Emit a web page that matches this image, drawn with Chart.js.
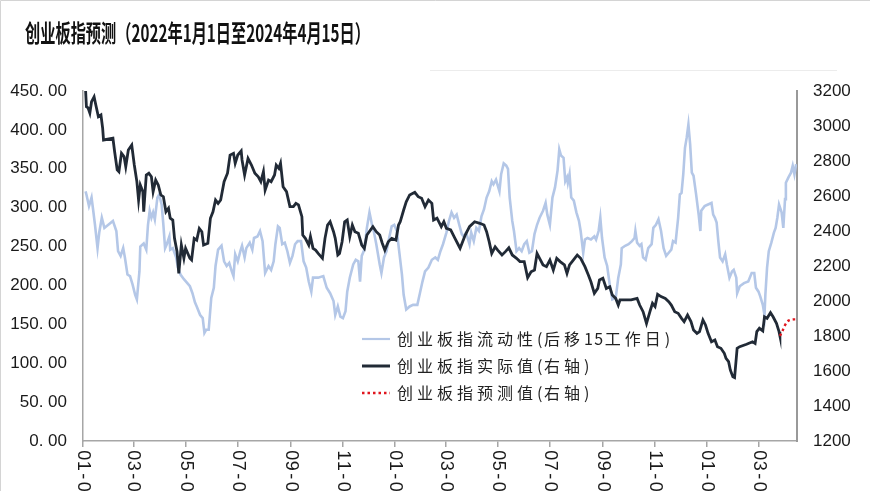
<!DOCTYPE html>
<html>
<head>
<meta charset="utf-8">
<title>创业板指预测</title>
<script src="https://cdn.jsdelivr.net/npm/chart.js@4.4.1/dist/chart.umd.min.js"></script>
<style>
  html, body { margin: 0; padding: 0; background: #fff; overflow: hidden; }
  #wrap { position: relative; width: 870px; height: 492px; }
</style>
</head>
<body>
<div id="wrap"><canvas id="chart" width="870" height="492"></canvas></div>
<script>
// chart texts
const titleText = "创业板指预测（2022年1月1日至2024年4月15日）";
const seriesNames = ["创业板指流动性(后移15工作日)", "创业板指实际值(右轴)", "创业板指预测值(右轴)"];

// x axis ticks (first day of every odd month)
const xTickDates = ["2022-01-01", "2022-03-01", "2022-05-01", "2022-07-01", "2022-09-01", "2022-11-01",
  "2023-01-01", "2023-03-01", "2023-05-01", "2023-07-01", "2023-09-01", "2023-11-01",
  "2024-01-01", "2024-03-01"];
const xTickLabels = ["01-01", "03-01", "05-01", "07-01", "09-01", "11-01",
  "01-01", "03-01", "05-01", "07-01", "09-01", "11-01", "01-01", "03-01"];
const xStart = "2022-01-01";
const xEnd = "2024-04-15";

// axis ranges
const leftMin = 0, leftMax = 450, leftStep = 50;
const rightMin = 1200, rightMax = 3200, rightStep = 200;

// liquidity (left axis), shifted 15 working days
const liqDates = [
  "2022-01-04", "2022-01-05", "2022-01-08", "2022-01-11", "2022-01-13", "2022-01-15", "2022-01-18", "2022-01-20",
  "2022-01-23", "2022-01-26", "2022-02-05", "2022-02-09", "2022-02-11", "2022-02-14", "2022-02-17", "2022-02-19",
  "2022-02-22", "2022-02-25", "2022-02-28", "2022-03-03", "2022-03-05", "2022-03-08", "2022-03-09", "2022-03-13",
  "2022-03-16", "2022-03-18", "2022-03-20", "2022-03-22", "2022-03-24", "2022-03-26", "2022-03-29", "2022-03-31",
  "2022-04-03", "2022-04-05", "2022-04-07", "2022-04-09", "2022-04-12", "2022-04-13", "2022-04-16", "2022-04-20",
  "2022-04-22", "2022-04-25", "2022-04-29", "2022-05-03", "2022-05-06", "2022-05-09", "2022-05-12", "2022-05-14",
  "2022-05-18", "2022-05-21", "2022-05-23", "2022-05-25", "2022-05-28", "2022-05-31", "2022-06-03", "2022-06-05",
  "2022-06-08", "2022-06-12", "2022-06-15", "2022-06-18", "2022-06-21", "2022-06-24", "2022-06-26", "2022-06-28",
  "2022-07-01", "2022-07-04", "2022-07-06", "2022-07-09", "2022-07-11", "2022-07-15", "2022-07-18", "2022-07-20",
  "2022-07-24", "2022-07-27", "2022-07-30", "2022-08-02", "2022-08-06", "2022-08-09", "2022-08-12", "2022-08-14",
  "2022-08-17", "2022-08-19", "2022-08-22", "2022-08-25", "2022-08-28", "2022-08-31", "2022-09-03", "2022-09-06",
  "2022-09-09", "2022-09-13", "2022-09-16", "2022-09-19", "2022-09-22", "2022-09-25", "2022-09-27", "2022-10-03",
  "2022-10-09", "2022-10-13", "2022-10-17", "2022-10-21", "2022-10-23", "2022-10-26", "2022-10-29", "2022-11-01",
  "2022-11-04", "2022-11-06", "2022-11-09", "2022-11-13", "2022-11-16", "2022-11-19", "2022-11-21", "2022-11-23",
  "2022-11-26", "2022-11-29", "2022-12-02", "2022-12-05", "2022-12-07", "2022-12-10", "2022-12-14", "2022-12-16",
  "2022-12-19", "2022-12-22", "2022-12-25", "2022-12-28", "2022-12-31", "2023-01-03", "2023-01-06", "2023-01-09",
  "2023-01-11", "2023-01-14", "2023-01-18", "2023-01-22", "2023-01-27", "2023-01-30", "2023-02-02", "2023-02-05",
  "2023-02-09", "2023-02-13", "2023-02-17", "2023-02-20", "2023-02-23", "2023-02-26", "2023-03-02", "2023-03-05",
  "2023-03-08", "2023-03-11", "2023-03-14", "2023-03-17", "2023-03-20", "2023-03-22", "2023-03-25", "2023-03-29",
  "2023-03-31", "2023-04-03", "2023-04-06", "2023-04-09", "2023-04-12", "2023-04-15", "2023-04-18", "2023-04-21",
  "2023-04-24", "2023-04-26", "2023-04-29", "2023-05-03", "2023-05-05", "2023-05-08", "2023-05-11", "2023-05-13",
  "2023-05-15", "2023-05-18", "2023-05-20", "2023-05-23", "2023-05-26", "2023-05-29", "2023-06-01", "2023-06-04",
  "2023-06-07", "2023-06-10", "2023-06-13", "2023-06-16", "2023-06-19", "2023-06-23", "2023-06-26", "2023-06-28",
  "2023-07-01", "2023-07-04", "2023-07-07", "2023-07-10", "2023-07-12", "2023-07-14", "2023-07-17", "2023-07-19",
  "2023-07-21", "2023-07-22", "2023-07-24", "2023-07-26", "2023-07-29", "2023-08-01", "2023-08-04", "2023-08-06",
  "2023-08-09", "2023-08-11", "2023-08-14", "2023-08-18", "2023-08-22", "2023-08-24", "2023-08-27", "2023-08-29",
  "2023-08-31", "2023-09-03", "2023-09-06", "2023-09-09", "2023-09-12", "2023-09-16", "2023-09-19", "2023-09-22",
  "2023-09-23", "2023-09-27", "2023-10-01", "2023-10-05", "2023-10-08", "2023-10-09", "2023-10-11", "2023-10-14",
  "2023-10-16", "2023-10-18", "2023-10-21", "2023-10-24", "2023-10-28", "2023-10-30", "2023-11-02", "2023-11-05",
  "2023-11-08", "2023-11-11", "2023-11-14", "2023-11-17", "2023-11-20", "2023-11-22", "2023-11-25", "2023-11-28",
  "2023-11-30", "2023-12-02", "2023-12-04", "2023-12-06", "2023-12-08", "2023-12-10", "2023-12-12", "2023-12-14",
  "2023-12-16", "2023-12-19", "2023-12-22", "2023-12-24", "2023-12-25", "2023-12-29", "2024-01-02", "2024-01-06",
  "2024-01-08", "2024-01-10", "2024-01-12", "2024-01-14", "2024-01-16", "2024-01-19", "2024-01-22", "2024-01-24",
  "2024-01-27", "2024-01-30", "2024-02-01", "2024-02-04", "2024-02-05", "2024-02-08", "2024-02-13", "2024-02-18",
  "2024-02-22", "2024-02-25", "2024-02-27", "2024-03-01", "2024-03-03", "2024-03-06", "2024-03-08", "2024-03-09",
  "2024-03-11", "2024-03-13", "2024-03-16", "2024-03-19", "2024-03-21", "2024-03-23", "2024-03-25", "2024-03-28",
  "2024-03-30", "2024-04-01", "2024-04-02", "2024-04-05", "2024-04-08", "2024-04-10", "2024-04-12", "2024-04-14"
];
const liqValues = [
  321, 317, 302, 313, 296, 278, 248, 268,
  287, 274, 283, 270, 244, 238, 248, 236,
  214, 212, 201, 188, 182, 218, 250, 254,
  246, 278, 296, 287, 294, 285, 313, 317,
  304, 278, 248, 253, 263, 246, 248, 236,
  223, 214, 208, 203, 199, 190, 178, 173,
  162, 158, 139, 143, 143, 184, 197, 225,
  246, 251, 231, 225, 229, 218, 212, 240,
  231, 244, 251, 236, 248, 255, 246, 261,
  263, 270, 257, 216, 225, 220, 231, 253,
  276, 274, 253, 255, 244, 229, 238, 253,
  257, 257, 231, 223, 205, 192, 210, 210,
  212, 197, 190, 180, 162, 173, 160, 158,
  167, 192, 210, 227, 233, 231, 205, 238,
  246, 274, 294, 278, 270, 253, 227, 216,
  236, 244, 261, 276, 278, 270, 242, 214,
  188, 169, 173, 175, 175, 190, 205, 218,
  223, 233, 236, 233, 244, 253, 268, 283,
  294, 287, 291, 278, 266, 263, 268, 253,
  268, 257, 274, 270, 289, 298, 313, 321,
  334, 330, 336, 321, 343, 357, 354, 350,
  313, 283, 270, 244, 248, 244, 253, 257,
  242, 244, 266, 278, 287, 296, 306, 291,
  278, 313, 326, 348, 375, 367, 364, 334,
  339, 332, 343, 313, 309, 294, 283, 270,
  242, 259, 261, 259, 263, 259, 270, 287,
  261, 236, 225, 201, 182, 184, 210, 227,
  248, 251, 253, 257, 261, 270, 255, 251,
  253, 236, 233, 248, 253, 274, 278, 285,
  270, 248, 238, 242, 246, 257, 255, 287,
  317, 319, 343, 377, 390, 407, 382, 345,
  341, 317, 291, 270, 296, 302, 304, 306,
  291, 287, 281, 257, 236, 231, 240, 227,
  210, 218, 220, 210, 190, 199, 203, 205,
  216, 216, 197, 192, 186, 175, 162, 188,
  223, 244, 255, 268, 274, 287, 304, 294,
  274, 311, 332, 339, 345, 354, 343, 356
];

// ChiNext index actual close (right axis)
const actualDates = [
  "2022-01-04", "2022-01-05", "2022-01-07", "2022-01-09", "2022-01-11", "2022-01-14", "2022-01-16", "2022-01-19",
  "2022-01-22", "2022-01-24", "2022-01-25", "2022-02-05", "2022-02-07", "2022-02-10", "2022-02-12", "2022-02-15",
  "2022-02-18", "2022-02-20", "2022-02-23", "2022-02-27", "2022-03-02", "2022-03-05", "2022-03-07", "2022-03-09",
  "2022-03-12", "2022-03-13", "2022-03-16", "2022-03-19", "2022-03-22", "2022-03-24", "2022-03-27", "2022-03-30",
  "2022-04-02", "2022-04-05", "2022-04-08", "2022-04-11", "2022-04-13", "2022-04-16", "2022-04-18", "2022-04-21",
  "2022-04-23", "2022-04-26", "2022-04-29", "2022-05-01", "2022-05-06", "2022-05-08", "2022-05-11", "2022-05-14",
  "2022-05-17", "2022-05-20", "2022-05-22", "2022-05-27", "2022-05-30", "2022-06-02", "2022-06-05", "2022-06-08",
  "2022-06-11", "2022-06-15", "2022-06-19", "2022-06-22", "2022-06-26", "2022-06-28", "2022-07-01", "2022-07-05",
  "2022-07-06", "2022-07-09", "2022-07-13", "2022-07-17", "2022-07-21", "2022-07-25", "2022-07-28", "2022-07-31",
  "2022-08-02", "2022-08-06", "2022-08-09", "2022-08-13", "2022-08-15", "2022-08-18", "2022-08-20", "2022-08-23",
  "2022-08-27", "2022-08-31", "2022-09-04", "2022-09-07", "2022-09-10", "2022-09-14", "2022-09-15", "2022-09-18",
  "2022-09-22", "2022-09-24", "2022-09-27", "2022-09-30", "2022-10-03", "2022-10-08", "2022-10-11", "2022-10-14",
  "2022-10-17", "2022-10-21", "2022-10-23", "2022-10-26", "2022-10-28", "2022-10-31", "2022-11-03", "2022-11-06",
  "2022-11-09", "2022-11-12", "2022-11-15", "2022-11-19", "2022-11-23", "2022-11-26", "2022-11-29", "2022-12-06",
  "2022-12-10", "2022-12-14", "2022-12-17", "2022-12-20", "2022-12-24", "2022-12-28", "2023-01-02", "2023-01-05",
  "2023-01-07", "2023-01-11", "2023-01-14", "2023-01-18", "2023-01-24", "2023-01-28", "2023-02-01", "2023-02-05",
  "2023-02-09", "2023-02-13", "2023-02-15", "2023-02-19", "2023-02-24", "2023-02-27", "2023-03-02", "2023-03-07",
  "2023-03-12", "2023-03-16", "2023-03-18", "2023-03-24", "2023-03-29", "2023-04-04", "2023-04-10", "2023-04-15",
  "2023-04-18", "2023-04-21", "2023-04-24", "2023-04-28", "2023-05-01", "2023-05-06", "2023-05-10", "2023-05-14",
  "2023-05-18", "2023-05-23", "2023-05-27", "2023-06-01", "2023-06-05", "2023-06-09", "2023-06-13", "2023-06-16",
  "2023-06-19", "2023-06-23", "2023-06-27", "2023-07-01", "2023-07-05", "2023-07-09", "2023-07-13", "2023-07-18",
  "2023-07-21", "2023-07-24", "2023-07-30", "2023-08-02", "2023-08-06", "2023-08-11", "2023-08-15", "2023-08-18",
  "2023-08-22", "2023-08-26", "2023-08-28", "2023-09-01", "2023-09-05", "2023-09-09", "2023-09-12", "2023-09-16",
  "2023-09-19", "2023-09-21", "2023-09-27", "2023-10-04", "2023-10-11", "2023-10-14", "2023-10-18", "2023-10-22",
  "2023-10-26", "2023-10-29", "2023-11-01", "2023-11-04", "2023-11-08", "2023-11-13", "2023-11-17", "2023-11-20",
  "2023-11-24", "2023-11-28", "2023-12-02", "2023-12-05", "2023-12-09", "2023-12-13", "2023-12-16", "2023-12-20",
  "2023-12-23", "2023-12-27", "2023-12-30", "2024-01-02", "2024-01-06", "2024-01-10", "2024-01-13", "2024-01-17",
  "2024-01-21", "2024-01-23", "2024-01-26", "2024-01-28", "2024-01-31", "2024-02-02", "2024-02-05", "2024-02-08",
  "2024-02-16", "2024-02-23", "2024-02-26", "2024-02-28", "2024-03-02", "2024-03-06", "2024-03-08", "2024-03-11",
  "2024-03-15", "2024-03-18", "2024-03-22", "2024-03-25", "2024-03-26"
];
const actualValues = [
  3206, 3110, 3103, 3074, 3139, 3167, 3120, 3053,
  3063, 2987, 2920, 2930, 2853, 2749, 2739, 2844,
  2825, 2767, 2863, 2891, 2777, 2682, 2577, 2663,
  2625, 2510, 2720, 2730, 2710, 2625, 2691, 2663,
  2606, 2596, 2510, 2530, 2473, 2463, 2358, 2282,
  2158, 2320, 2244, 2301, 2244, 2234, 2358, 2348,
  2415, 2396, 2320, 2330, 2473, 2510, 2577, 2558,
  2577, 2682, 2730, 2834, 2844, 2787, 2834, 2857,
  2806, 2720, 2815, 2777, 2730, 2710, 2682, 2739,
  2634, 2691, 2682, 2720, 2777, 2758, 2787, 2653,
  2625, 2539, 2539, 2558, 2549, 2482, 2377, 2358,
  2320, 2368, 2301, 2291, 2272, 2244, 2358, 2434,
  2453, 2396, 2358, 2263, 2272, 2339, 2453, 2463,
  2368, 2434, 2396, 2387, 2320, 2301, 2377, 2425,
  2396, 2377, 2330, 2291, 2339, 2358, 2348, 2434,
  2453, 2520, 2567, 2606, 2621, 2596, 2587, 2539,
  2577, 2558, 2463, 2473, 2425, 2453, 2415, 2406,
  2358, 2320, 2301, 2377, 2425, 2453, 2444, 2434,
  2396, 2339, 2272, 2310, 2291, 2263, 2282, 2304,
  2263, 2244, 2225, 2225, 2133, 2167, 2177, 2272,
  2244, 2206, 2196, 2234, 2177, 2244, 2225, 2206,
  2158, 2206, 2244, 2263, 2244, 2196, 2149, 2110,
  2044, 2072, 2120, 2130, 2072, 2082, 2034, 2015,
  1977, 2006, 2006, 2006, 2015, 1977, 1939, 1872,
  1939, 1987, 1968, 2038, 2025, 2015, 1996, 1977,
  1939, 1930, 1901, 1882, 1920, 1882, 1834, 1815,
  1825, 1891, 1863, 1815, 1767, 1777, 1739, 1730,
  1701, 1672, 1653, 1606, 1567, 1562, 1730, 1739,
  1753, 1767, 1758, 1825, 1844, 1829, 1910, 1901,
  1933, 1910, 1872, 1825, 1801
];

// forecast (right axis)
const forecastDates = ["2024-03-26", "2024-03-28", "2024-03-30", "2024-04-01", "2024-04-03",
  "2024-04-05", "2024-04-08", "2024-04-11", "2024-04-14"];
const forecastValues = [1801, 1818, 1840, 1862, 1878, 1888, 1893, 1895, 1895];

// colours
const liqColor = "#b4c7e7";
const actualColor = "#212a36";
const forecastColor = "#e0161e";
const axisColor = "#a6a6a6";
const textColor = "#1a1a1a";

// date string -> days since xStart
const DAY_MS = 86400000;
function toDay(s) {
  const p = s.split("-").map(Number);
  const b = xStart.split("-").map(Number);
  return (Date.UTC(p[0], p[1] - 1, p[2]) - Date.UTC(b[0], b[1] - 1, b[2])) / DAY_MS;
}
function toPoints(dates, values) {
  return dates.map((d, i) => ({ x: toDay(d), y: values[i] }));
}

// draw a string one glyph at a time with a fixed or measured advance
function spacedText(ctx, text, x, y, advance) {
  for (const ch of text) {
    ctx.fillText(ch, x, y);
    x += advance(ch);
  }
}

// title, rotated x labels, legend and frame drawn on top of the chart
const decorPlugin = {
  id: "decor",
  afterDraw(chart) {
    const ctx = chart.ctx;
    const xs = chart.scales.x;
    const area = chart.chartArea;

    // frame edges and the faint rule near the top
    ctx.save();
    ctx.strokeStyle = "#d4d4d4";
    ctx.lineWidth = 1;
    ctx.beginPath();
    ctx.moveTo(0.5, 491);
    ctx.lineTo(0.5, 0.5);
    ctx.lineTo(870, 0.5);
    ctx.stroke();
    ctx.strokeStyle = "#ececec";
    ctx.beginPath();
    ctx.moveTo(430, 70.5);
    ctx.lineTo(837, 70.5);
    ctx.stroke();
    ctx.restore();

    // title, squeezed to the width of the original
    ctx.save();
    ctx.font = "bold 24px 'Noto Sans CJK SC'";
    ctx.fillStyle = "#111";
    ctx.textBaseline = "middle";
    const tw = ctx.measureText(titleText).width;
    ctx.translate(25, 33);
    ctx.scale(345 / tw, 1);
    ctx.fillText(titleText, 0, 0);
    ctx.restore();

    // x tick labels, reading top to bottom, one glyph per cell
    ctx.save();
    ctx.font = "18px 'Liberation Sans'";
    ctx.fillStyle = textColor;
    ctx.textBaseline = "middle";
    const cell = 10.5;
    xTickDates.forEach((d, i) => {
      const x = xs.getPixelForValue(toDay(d));
      ctx.save();
      ctx.translate(x, area.bottom + 9);
      ctx.rotate(Math.PI / 2);
      let pos = 0;
      for (const ch of xTickLabels[i]) {
        const w = ctx.measureText(ch).width;
        ctx.fillText(ch, pos + (cell - w) / 2, 0);
        pos += cell;
      }
      ctx.restore();
    });
    ctx.restore();

    // legend inside the plot
    const rows = [339, 366, 393];
    chart.data.datasets.forEach((ds, i) => {
      const y = rows[i];
      ctx.save();
      ctx.strokeStyle = ds.borderColor;
      ctx.lineWidth = i === 0 ? 2.2 : (i === 1 ? 3 : 2.4);
      if (ds.borderDash) ctx.setLineDash(ds.borderDash);
      ctx.beginPath();
      ctx.moveTo(362, y);
      ctx.lineTo(390, y);
      ctx.stroke();
      ctx.restore();

      ctx.save();
      ctx.font = "16px 'Noto Sans CJK SC'";
      ctx.fillStyle = "#222";
      ctx.textBaseline = "middle";
      spacedText(ctx, seriesNames[i], 397, y, (ch) =>
        ch.charCodeAt(0) > 0x2e80 ? 20 : ctx.measureText(ch).width + 1.5);
      ctx.restore();
    });
  }
};

const chart = new Chart(document.getElementById("chart").getContext("2d"), {
  type: "line",
  data: {
    datasets: [
      {
        label: seriesNames[0],
        data: toPoints(liqDates, liqValues),
        yAxisID: "yL",
        borderColor: liqColor,
        borderWidth: 2.6,
        pointRadius: 0,
        tension: 0,
        order: 3
      },
      {
        label: seriesNames[1],
        data: toPoints(actualDates, actualValues),
        yAxisID: "yR",
        borderColor: actualColor,
        borderWidth: 2.8,
        pointRadius: 0,
        tension: 0,
        order: 2
      },
      {
        label: seriesNames[2],
        data: toPoints(forecastDates, forecastValues),
        yAxisID: "yR",
        borderColor: forecastColor,
        borderDash: [2.5, 3],
        borderWidth: 2.4,
        pointRadius: 0,
        tension: 0,
        order: 1
      }
    ]
  },
  options: {
    responsive: false,
    animation: false,
    devicePixelRatio: 1,
    layout: { padding: { top: 91, left: 0, right: 0, bottom: 0 } },
    plugins: {
      legend: { display: false },
      title: { display: false },
      tooltip: { enabled: false }
    },
    scales: {
      x: {
        type: "linear",
        min: toDay(xStart),
        max: toDay(xEnd),
        afterBuildTicks: (s) => { s.ticks = xTickDates.map((d) => ({ value: toDay(d) })); },
        afterFit: (s) => { s.height = 51; },
        ticks: { display: false },
        grid: { drawOnChartArea: false, drawTicks: true, tickLength: 6, color: axisColor, lineWidth: 1.5 },
        border: { color: axisColor, width: 1.5 }
      },
      yL: {
        position: "left",
        min: leftMin,
        max: leftMax,
        afterFit: (s) => { s.width = 83; },
        ticks: {
          stepSize: leftStep,
          padding: 16,
          color: textColor,
          font: { family: "'Liberation Sans'", size: 17 },
          callback: (v) => v.toFixed(2).replace(".", ". ")
        },
        grid: { display: false, drawTicks: false },
        border: { color: axisColor, width: 1.5 }
      },
      yR: {
        position: "right",
        min: rightMin,
        max: rightMax,
        afterFit: (s) => { s.width = 73; },
        ticks: {
          stepSize: rightStep,
          padding: 16,
          color: textColor,
          font: { family: "'Liberation Sans'", size: 17 },
          callback: (v) => String(v)
        },
        grid: { display: false, drawTicks: false },
        border: { color: "#999", width: 2 }
      }
    }
  },
  plugins: [decorPlugin]
});
</script>
</body>
</html>
